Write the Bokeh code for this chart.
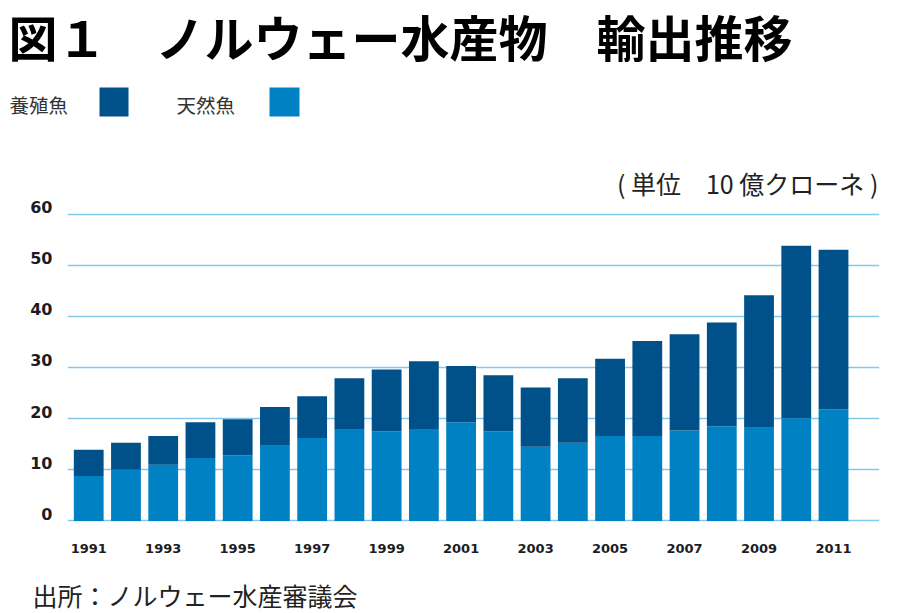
from bokeh.plotting import figure
from bokeh.models import Range1d, FixedTicker, LinearAxis, ColumnDataSource
from bokeh.layouts import column
from bokeh.core.properties import value
from bokeh.embed import file_html
from bokeh.resources import INLINE

years = list(range(1991, 2012))
wild = [8.8, 10.0, 11.0, 12.3, 12.8, 14.7, 16.2, 18.0, 17.5, 18.0, 19.3,
        17.5, 14.5, 15.3, 16.6, 16.6, 17.7, 18.5, 18.2, 20.1, 21.8]
farmed = [5.1, 5.3, 5.6, 7.0, 7.1, 7.6, 8.2, 9.9, 12.1, 13.2, 11.0,
          11.0, 11.6, 12.6, 15.1, 18.6, 18.8, 20.3, 25.9, 33.7, 31.2]
x_tick_years = years[::2]
y_ticks = [0, 10, 20, 30, 40, 50, 60]

title_text = "図１　ノルウェー水産物　輸出推移"
legend_farmed = "養殖魚"
legend_wild = "天然魚"
unit_text = "( 単位　10 億クローネ )"
source_text = "出所：ノルウェー水産審議会"

DARK = "#00518a"
LIGHT = "#0081c4"
GRID = "#86c8ea"
JP = "Noto Sans CJK JP"
W = 896


def text_fig(h):
    f = figure(width=W, height=h, output_backend="svg", toolbar_location=None,
               x_range=Range1d(0, W), y_range=Range1d(h, 0),
               min_border=0, min_border_left=0, min_border_right=0,
               min_border_top=0, min_border_bottom=0, frame_align=False)
    f.axis.visible = False
    f.grid.visible = False
    f.outline_line_color = None
    return f


# ---- header: title, legend ----
TOP_H = 160
top = text_fig(TOP_H)
top.text(x=[8], y=[35], text=[title_text], text_font=value(JP),
         text_font_size="49px", text_font_style="bold", text_color="#000000",
         text_baseline="middle", text_align="left")
top.text(x=[9, 176], y=[104, 104], text=[legend_farmed, legend_wild],
         text_font=value(JP), text_font_size="19.5px", text_color="#333333",
         text_baseline="middle", text_align="left")
top.quad(left=[99, 269], right=[128, 299], top=[87, 87], bottom=[116, 116],
         fill_color=[DARK, LIGHT], line_color=None)

# ---- chart ----
src = ColumnDataSource(dict(year=years, wild=wild, farmed=farmed))
X0, X1 = 1990.43, 2012.235
Y0, Y1 = -0.3, 70.46
SHIFT = 1.37          # y labels sit a little above their grid lines
CH_FRAME, CH_BOT = 362, 38
CH_H = CH_FRAME + CH_BOT
p = figure(width=W, height=CH_H, output_backend="svg", toolbar_location=None,
           x_range=Range1d(X0, X1), y_range=Range1d(Y0, Y1),
           y_axis_location=None, frame_align=False,
           min_border_left=67, min_border_right=W - 879, min_border_top=0,
           min_border_bottom=CH_BOT)
p.outline_line_color = None

p.vbar_stack(["wild", "farmed"], x="year", width=0.8, color=[LIGHT, DARK],
             line_color=None, source=src)

p.extra_y_ranges = {"labels": Range1d(Y0 - SHIFT, Y1 - SHIFT)}
yax = LinearAxis(y_range_name="labels", ticker=FixedTicker(ticks=y_ticks))
p.add_layout(yax, "left")

p.xaxis.ticker = FixedTicker(ticks=x_tick_years)
for ax in (p.xaxis[0], yax):
    ax.axis_line_color = None
    ax.major_tick_line_color = None
    ax.minor_tick_line_color = None
    ax.major_tick_out = 0
    ax.major_tick_in = 0
    ax.major_label_text_font = "DejaVu Sans"
    ax.major_label_text_font_style = "bold"
    ax.major_label_text_color = "#1c1c24"
yax.major_label_text_font_size = "16px"
yax.major_label_standoff = 15
p.xaxis.major_label_text_font_size = "13px"
p.xaxis.major_label_standoff = 21

p.xgrid.grid_line_color = None
p.ygrid.ticker = FixedTicker(ticks=y_ticks)
p.ygrid.grid_line_color = GRID
p.ygrid.grid_line_width = 1.4

# unit note, top right of the plot area
p.text(x=[X1 - 0.03], y=[65.97], text=[unit_text], text_font=value(JP),
       text_font_size="25px", text_color="#222222",
       text_baseline="middle", text_align="right")

# ---- footer: source ----
BOT_H = 52
bot = text_fig(BOT_H)
bot.text(x=[32], y=[34], text=[source_text], text_font=value(JP),
         text_font_size="25px", text_color="#222222",
         text_baseline="middle", text_align="left")

layout = column(top, p, bot, spacing=0)
open("out.html", "w").write(file_html(layout, INLINE))
